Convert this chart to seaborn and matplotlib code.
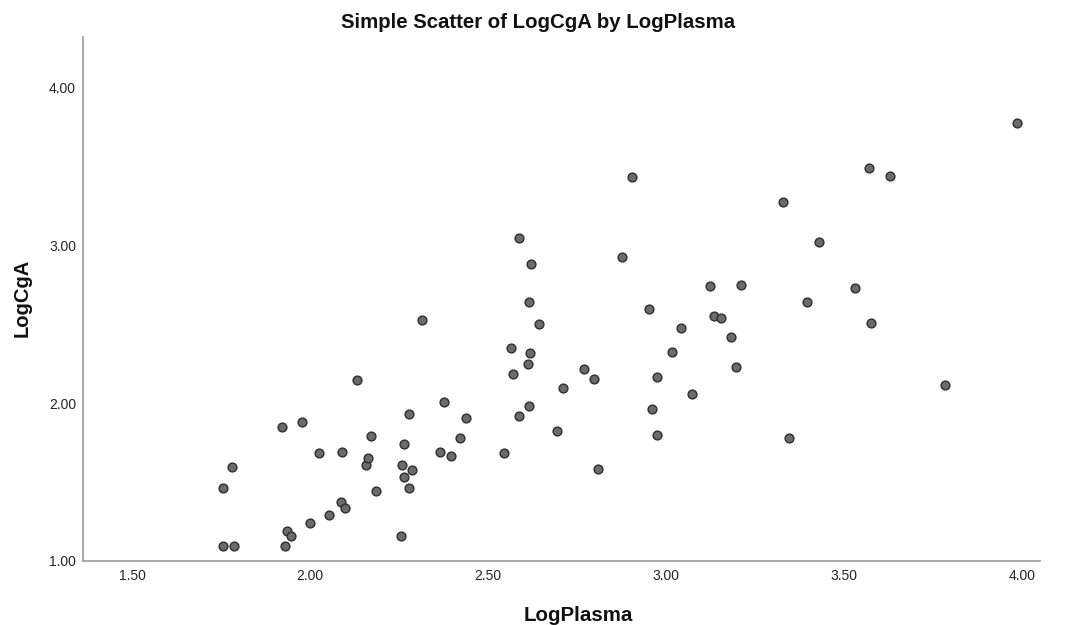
import matplotlib
matplotlib.use("Agg")
import matplotlib.pyplot as plt
import seaborn as sns
import pandas as pd

log_plasma = [1.757, 1.787, 1.757, 1.780, 1.931, 1.935, 1.947, 1.920, 1.978, 2.001,
              2.026, 2.054, 2.086, 2.091, 2.099, 2.131, 2.156, 2.164, 2.171, 2.186,
              2.256, 2.259, 2.264, 2.264, 2.278, 2.278, 2.286, 2.314, 2.364, 2.377,
              2.397, 2.421, 2.439, 2.545, 2.565, 2.569, 2.586, 2.587, 2.612, 2.614,
              2.615, 2.619, 2.622, 2.642, 2.695, 2.712, 2.769, 2.797, 2.808, 2.876,
              2.904, 2.953, 2.961, 2.975, 2.976, 3.017, 3.041, 3.074, 3.124, 3.136,
              3.155, 3.183, 3.197, 3.211, 3.329, 3.346, 3.396, 3.430, 3.532, 3.570,
              3.575, 3.628, 3.783, 3.986]
log_cga = [1.092, 1.092, 1.460, 1.593, 1.092, 1.189, 1.157, 1.851, 1.880, 1.244,
           1.684, 1.293, 1.375, 1.692, 1.335, 2.150, 1.606, 1.656, 1.791, 1.445,
           1.160, 1.606, 1.532, 1.745, 1.460, 1.935, 1.580, 2.527, 1.692, 2.007,
           1.667, 1.783, 1.910, 1.686, 2.349, 2.185, 3.049, 1.921, 2.252, 2.644,
           1.982, 2.318, 2.886, 2.500, 1.826, 2.094, 2.219, 2.155, 1.582, 2.925,
           3.438, 2.597, 1.967, 1.798, 2.170, 2.328, 2.479, 2.062, 2.743, 2.555,
           2.544, 2.422, 2.229, 2.753, 3.275, 1.783, 2.644, 3.026, 2.732, 3.495,
           2.512, 3.443, 2.115, 3.776]

x_ticks = [1.5, 2.0, 2.5, 3.0, 3.5, 4.0]
x_tick_labels = ["1.50", "2.00", "2.50", "3.00", "3.50", "4.00"]
y_ticks = [1.0, 2.0, 3.0, 4.0]
y_tick_labels = ["1.00", "2.00", "3.00", "4.00"]

df = pd.DataFrame({"LogPlasma": log_plasma, "LogCgA": log_cga})

sns.set_theme(style="white")
plt.rcParams["font.family"] = ["Liberation Sans", "DejaVu Sans"]

W, H = 1068, 625
fig = plt.figure(figsize=(W / 100, H / 100), dpi=100)
ax_l, ax_r, ax_t, ax_b = 83, 1040, 37, 561
ax = fig.add_axes([ax_l / W, 1 - ax_b / H, (ax_r - ax_l) / W, (ax_b - ax_t) / H])

sns.scatterplot(data=df, x="LogPlasma", y="LogCgA", ax=ax, s=40,
                color="#6b6b6b", edgecolor="#2e2e2e", linewidth=1.0, zorder=3)

ax.set_xlim(1.3624, 4.0506)
ax.set_ylim(1.0, 4.323)
ax.set_xticks(x_ticks)
ax.set_xticklabels(x_tick_labels)
ax.set_yticks(y_ticks)
ax.set_yticklabels(y_tick_labels)
ax.tick_params(axis="both", length=0, labelsize=10, colors="#262626")
ax.tick_params(axis="x", pad=6)
ax.tick_params(axis="y", pad=5)
for s in ["top", "right"]:
    ax.spines[s].set_visible(False)
for s in ["left", "bottom"]:
    ax.spines[s].set_color("#a0a0a0")
    ax.spines[s].set_linewidth(1.3)
ax.set_xlabel("")
ax.set_ylabel("")
ax.grid(False)

fig.text(538.5 / W, 1 - 28.3 / H, "Simple Scatter of LogCgA by LogPlasma",
         ha="center", va="baseline", fontsize=14.7, fontweight="bold", color="#111111")
fig.text(578 / W, 1 - 621 / H, "LogPlasma", ha="center", va="baseline",
         fontsize=14.8, fontweight="bold", color="#111111")
fig.text(22.5 / W, 1 - 297.5 / H, "LogCgA", ha="center", va="center", rotation=90,
         fontsize=14.5, fontweight="bold", color="#111111")

fig.savefig("out.png", dpi=100)
